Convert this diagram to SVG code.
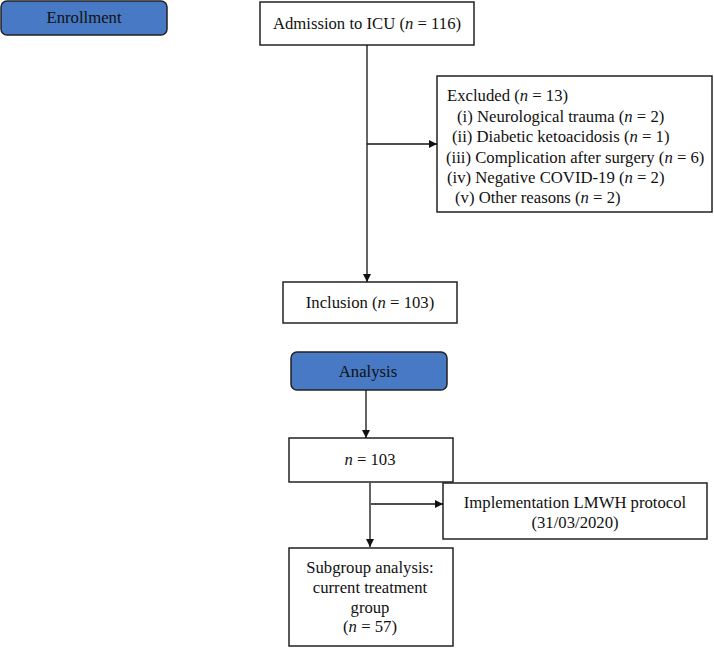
<svg xmlns="http://www.w3.org/2000/svg" width="714" height="648" viewBox="0 0 714 648">
<defs>
<marker id="ah" viewBox="0 0 10 10" refX="10" refY="5" markerWidth="8" markerHeight="8" markerUnits="userSpaceOnUse" orient="auto"><path d="M0,0 L10,5 L0,10 z" fill="#111"/></marker>
<style>
.box{fill:#fff;stroke:#222;stroke-width:1.5}
.hdr{fill:#4779c4;stroke:#222;stroke-width:1.5}
text{font-family:"Liberation Serif","Times New Roman",serif;font-size:16.7px;fill:#111}
.c{text-anchor:middle}
.ln{stroke:#111;stroke-width:1.3;fill:none}
</style>
</defs>
<g id="enrollment"><rect class="hdr" x="1" y="1" width="166" height="34" rx="6"/><text class="c" x="84" y="23">Enrollment</text></g>
<g id="admission"><rect class="box" x="260" y="2" width="214" height="43"/><text class="c" x="367" y="29">Admission to ICU (<tspan font-style="italic">n</tspan> = 116)</text></g>
<g id="excluded"><rect class="box" x="437" y="76" width="275" height="136"/>
<text x="447" y="101">Excluded (<tspan font-style="italic">n</tspan> = 13)</text>
<text x="457" y="122">(i) Neurological trauma (<tspan font-style="italic">n</tspan> = 2)</text>
<text x="452" y="142">(ii) Diabetic ketoacidosis (<tspan font-style="italic">n</tspan> = 1)</text>
<text x="446" y="163">(iii) Complication after surgery (<tspan font-style="italic">n</tspan> = 6)</text>
<text x="447" y="183">(iv) Negative COVID-19 (<tspan font-style="italic">n</tspan> = 2)</text>
<text x="455" y="203">(v) Other reasons (<tspan font-style="italic">n</tspan> = 2)</text>
</g>
<g id="inclusion"><rect class="box" x="283" y="282" width="174" height="41"/><text class="c" x="370" y="308">Inclusion (<tspan font-style="italic">n</tspan> = 103)</text></g>
<g id="analysis"><rect class="hdr" x="291" y="352" width="156" height="38" rx="6"/><text class="c" x="368" y="377">Analysis</text></g>
<g id="n103"><rect class="box" x="289" y="438" width="164" height="44"/><text class="c" x="370" y="465"><tspan font-style="italic">n</tspan> = 103</text></g>
<g id="lmwh"><rect class="box" x="443" y="483" width="264" height="56"/><text class="c" x="575" y="508">Implementation LMWH protocol</text><text class="c" x="575" y="528">(31/03/2020)</text></g>
<g id="subgroup"><rect class="box" x="289" y="548" width="164" height="98"/>
<text class="c" x="370" y="573">Subgroup analysis:</text>
<text class="c" x="370" y="593">current treatment</text>
<text class="c" x="370" y="613">group</text>
<text class="c" x="370" y="632">(<tspan font-style="italic">n</tspan> = 57)</text>
</g>
<g id="connectors">
<line class="ln" x1="367" y1="45" x2="367" y2="282" marker-end="url(#ah)"/>
<line class="ln" x1="367" y1="144" x2="437" y2="144" marker-end="url(#ah)"/>
<line class="ln" x1="366" y1="390" x2="366" y2="438" marker-end="url(#ah)"/>
<line class="ln" x1="370" y1="483" x2="370" y2="547" marker-end="url(#ah)"/>
<line class="ln" x1="371" y1="504" x2="443" y2="504" marker-end="url(#ah)"/>
</g>
</svg>
